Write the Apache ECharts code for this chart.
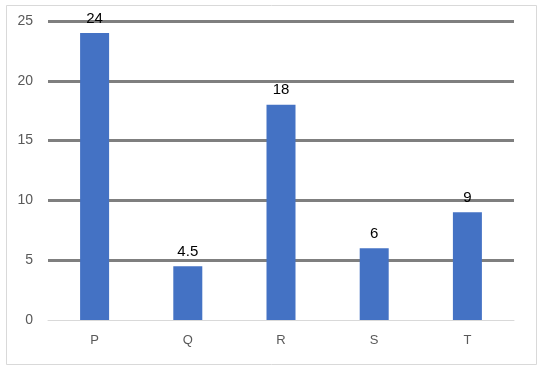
<!DOCTYPE html>
<html><head><meta charset="utf-8">
<script src="https://cdn.jsdelivr.net/npm/echarts@6/dist/echarts.min.js"></script>
<style>html,body{margin:0;padding:0;background:#fff}#c{width:543px;height:368px}</style>
</head><body><div id="c"></div>
<script>
const categories = ['P', 'Q', 'R', 'S', 'T'];
const values = [24, 4.5, 18, 6, 9];
const yTicks = [0, 5, 10, 15, 20, 25];

const chart = echarts.init(document.getElementById('c'), null, {renderer: 'canvas'});
chart.setOption({
  animation: false,
  backgroundColor: '#fff',
  graphic: [{
    type: 'rect', left: 4, top: 3, shape: {width: 530, height: 359},
    style: {fill: 'none', stroke: '#d9d9d9', lineWidth: 1}, z: -1
  }],
  grid: {left: 48, right: 29, top: 21, bottom: 48, containLabel: false},
  xAxis: {
    type: 'category', data: categories,
    axisLine: {show: true, lineStyle: {color: '#d9d9d9', width: 1}},
    axisTick: {show: false},
    axisLabel: {color: '#595959', fontSize: 13, margin: 14, fontFamily: 'Liberation Sans'}
  },
  yAxis: {
    type: 'value', min: yTicks[0], max: yTicks[yTicks.length - 1], interval: 5,
    axisLine: {show: false}, axisTick: {show: false},
    axisLabel: {color: '#595959', fontSize: 14, margin: 15, fontFamily: 'Liberation Sans'},
    splitLine: {show: true, showMinLine: false, lineStyle: {color: '#7f7f7f', width: 3}}
  },
  series: [{
    type: 'bar', data: values, barWidth: 29, z: 3,
    itemStyle: {color: '#4472c4'},
    label: {show: true, position: 'top', distance: 7, color: '#000', fontSize: 15, fontFamily: 'Liberation Sans'}
  }]
});
</script></body></html>
